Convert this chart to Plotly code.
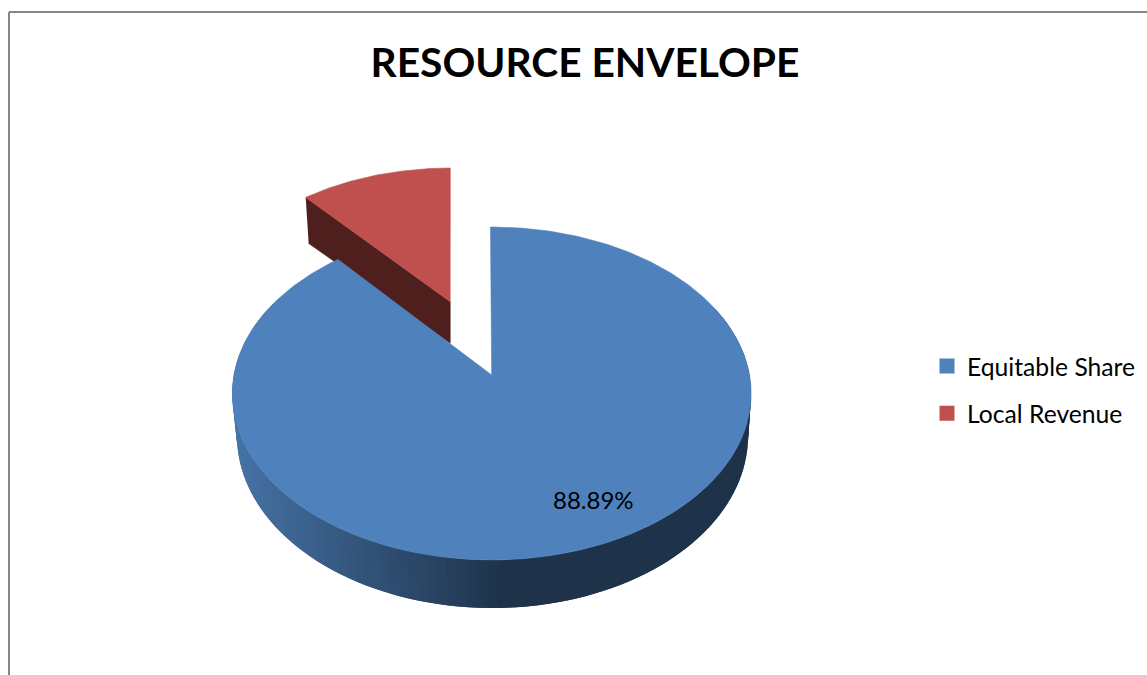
import numpy as np
import plotly.graph_objects as go

categories = ["Equitable Share", "Local Revenue"]
values = [88.89, 11.11]
slice_colors = ["#4F81BD", "#C0504D"]
label_text = "88.89%"
title_text = "RESOURCE ENVELOPE"

W, H = 1147, 675
FONT = "Lato"
TILT = -0.3  # degrees, rotation of the first slice edge


def project(theta_deg, cx, cy, r, a, k, shear=0.0):
    """theta measured clockwise from the top of the pie; returns x, y on the perspective disc."""
    t = np.radians(theta_deg)
    u, v = np.sin(t), np.cos(t)
    d = 1 + k * v
    return cx + r * u / d + shear * v, cy - a * v / d


def wedge(start, end, params, n=160):
    th = np.linspace(start, end, n)
    x, y = project(th, **params)
    return x, y


def lerp_color(c0, c1, f):
    f = min(max(f, 0.0), 1.0)
    return "rgb(%d,%d,%d)" % tuple(round(a + (b - a) * f) for a, b in zip(c0, c1))


total = sum(values)
blue_sweep = values[0] / total * 360
red_sweep = values[1] / total * 360

blue_top = dict(cx=491.7, cy=375, r=257.8, a=164.4, k=0.111)
blue_bot = dict(cx=492.5, cy=416.8, r=254, a=170.0, k=0.111)
red_top = dict(cx=450.2, cy=301.7, r=242.7, a=147.6, k=0.104, shear=1.2)
red_depth = 41.5

fig = go.Figure()


def poly(x, y, color, width=0.6):
    fig.add_trace(go.Scatter(x=list(x), y=list(y), mode="lines", fill="toself", fillcolor=color,
                             line=dict(color=color, width=width), hoverinfo="skip", showlegend=False))


# Local Revenue: radial side wall then top face
b_start, b_end = TILT, TILT + blue_sweep
r_start, r_end = b_end, b_start + 360
ex, ey = project(r_start, **red_top)
ax, ay = red_top["cx"], red_top["cy"]
poly([ex, ax, ax, ex + 3], [ey, ay, ay + red_depth, ey + red_depth + 4.5], "#4E1F1D")
rx, ry = wedge(r_start, r_end, red_top, 60)
poly([ax] + list(rx) + [ax], [ay] + list(ry) + [ay], slice_colors[1])

# Equitable Share: shaded outer wall, split in narrow overlapping bands, painted from right to left
edges = np.linspace(295, 65, 116)
step = abs(edges[1] - edges[0])
left_c, right_c = (70, 115, 166), (30, 50, 74)
for a0, a1 in zip(edges[:-1], edges[1:]):
    xt, yt = wedge(a0 + step, a1, blue_top, 3)
    xb, yb = wedge(a0 + step, a1, blue_bot, 3)
    frac = (510 - xb.mean()) / (510 - 238)
    color = lerp_color(right_c, left_c, frac)
    poly(list(xt) + list(xb[::-1]), list(yt) + list(yb[::-1]), color, width=0)

# Equitable Share: top face
bx, by = wedge(b_start, b_end, blue_top, 400)
poly([blue_top["cx"]] + list(bx) + [blue_top["cx"]], [blue_top["cy"]] + list(by) + [blue_top["cy"]], slice_colors[0])

# Legend entries
for name, color in zip(categories, slice_colors):
    fig.add_trace(go.Scatter(x=[None], y=[None], mode="markers", name=name, legendgroup=name,
                             marker=dict(symbol="square", size=15, color=color)))

fig.update_layout(
    width=W, height=H, margin=dict(l=0, r=0, t=0, b=0),
    paper_bgcolor="white", plot_bgcolor="white",
    font=dict(family=FONT, color="black"),
    xaxis=dict(range=[0, W], visible=False, fixedrange=True),
    yaxis=dict(range=[H, 0], visible=False, fixedrange=True),
    title=dict(text="<b>%s</b>" % title_text, x=585 / W, xanchor="center", y=1 - 63 / H, yanchor="middle",
               font=dict(family=FONT, size=40.7, color="black")),
    legend=dict(x=927 / W, y=1 - 390 / H, xanchor="left", yanchor="middle", tracegroupgap=12,
                font=dict(family=FONT, size=24.7, color="black"), bgcolor="rgba(0,0,0,0)"),
    annotations=[dict(x=593, y=499, xref="x", yref="y", text=label_text, showarrow=False,
                      font=dict(family=FONT, size=24, color="black"))],
    shapes=[dict(type="line", xref="x", yref="y", x0=9, x1=9, y0=12, y1=H, line=dict(color="#868686", width=2)),
            dict(type="line", xref="x", yref="y", x0=9, x1=W, y0=12, y1=12, line=dict(color="#868686", width=2))],
)

fig.write_html("out.html", config=dict(displayModeBar=False), post_script="document.body.style.margin='0';")
